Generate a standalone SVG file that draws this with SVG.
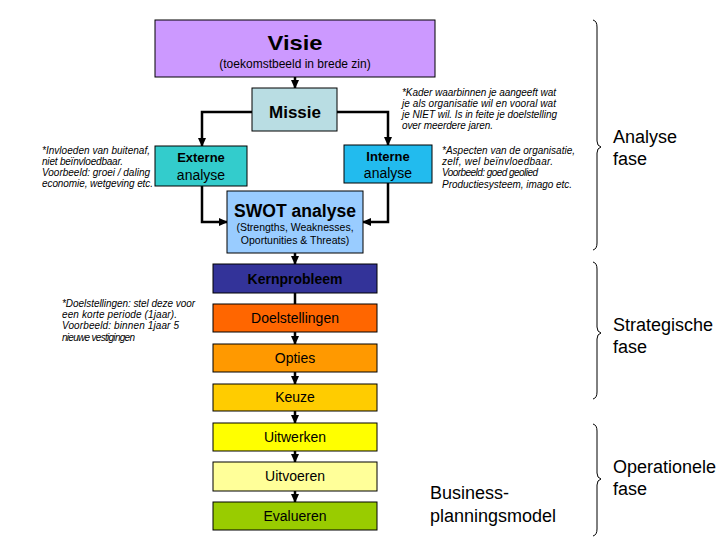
<svg xmlns="http://www.w3.org/2000/svg" width="720" height="540" viewBox="0 0 720 540">
<defs>
<marker id="ah" markerUnits="userSpaceOnUse" markerWidth="9" markerHeight="8" refX="8" refY="4" orient="auto">
<path d="M0,0 L9,4 L0,8 z" fill="#000"/>
</marker>
</defs>
<style>
.box{stroke:#000;stroke-width:1}
.t{font-family:"Liberation Sans",Arial,sans-serif;fill:#000}
.c{text-anchor:middle}
.lbl{font-size:14px}
.side{font-size:18px}
.note{font-family:"Liberation Sans",Arial,sans-serif;font-size:10px;font-style:italic;fill:#000}
.conn{fill:none;stroke:#000;stroke-width:2.5}
.brace{fill:none;stroke:#000;stroke-width:1}
</style>
<rect width="720" height="540" fill="#fff"/>

<g id="connectors">
<line class="conn" x1="295" y1="77" x2="295" y2="88" marker-end="url(#ah)"/>
<polyline class="conn" points="252,112 202,112 202,146" marker-end="url(#ah)"/>
<polyline class="conn" points="337,112 388,112 388,145" marker-end="url(#ah)"/>
<polyline class="conn" points="202,186 202,222 227,222" marker-end="url(#ah)"/>
<polyline class="conn" points="388,183 388,222 363,222" marker-end="url(#ah)"/>
<line class="conn" x1="295" y1="253" x2="295" y2="264" marker-end="url(#ah)"/>
<line class="conn" x1="295" y1="293" x2="295" y2="304"/>
<line class="conn" x1="295" y1="332" x2="295" y2="344" marker-end="url(#ah)"/>
<line class="conn" x1="295" y1="372" x2="295" y2="384" marker-end="url(#ah)"/>
<line class="conn" x1="295" y1="411" x2="295" y2="423" marker-end="url(#ah)"/>
<line class="conn" x1="295" y1="451" x2="295" y2="462" marker-end="url(#ah)"/>
<line class="conn" x1="295" y1="491" x2="295" y2="502" marker-end="url(#ah)"/>
</g>

<g id="visie">
<rect class="box" x="155" y="20" width="280" height="57" fill="#CC99FF"/>
<text class="t c" x="295" y="50" font-size="21" font-weight="bold" textLength="55" lengthAdjust="spacingAndGlyphs">Visie</text>
<text class="t c" x="295" y="68" font-size="12">(toekomstbeeld in brede zin)</text>
</g>

<g id="missie">
<rect class="box" x="252" y="88" width="85" height="43" fill="#B9DDE3"/>
<text class="t c" x="295" y="118" font-size="17" font-weight="bold">Missie</text>
</g>

<g id="externe">
<rect class="box" x="155" y="146" width="92" height="40" fill="#33CCCC"/>
<text class="t c" x="201" y="162" font-size="13" font-weight="bold">Externe</text>
<text class="t c" x="201" y="180" font-size="14">analyse</text>
</g>

<g id="interne">
<rect class="box" x="344" y="145" width="88" height="38" fill="#22BBEE"/>
<text class="t c" x="388" y="161" font-size="13" font-weight="bold">Interne</text>
<text class="t c" x="388" y="178" font-size="14">analyse</text>
</g>

<g id="swot">
<rect class="box" x="227" y="191" width="136" height="62" fill="#99CCFF"/>
<text class="t c" x="295" y="217" font-size="18" font-weight="bold" textLength="122" lengthAdjust="spacingAndGlyphs">SWOT analyse</text>
<text class="t c" x="295" y="231" font-size="10.5">(Strengths, Weaknesses,</text>
<text class="t c" x="295" y="244" font-size="10.5">Oportunities &amp; Threats)</text>
</g>

<g id="kernprobleem">
<rect class="box" x="213" y="264" width="164" height="29" fill="#333399"/>
<text class="t c" x="295" y="284" font-size="14" font-weight="bold">Kernprobleem</text>
</g>

<g id="doelstellingen">
<rect class="box" x="213" y="304" width="164" height="28" fill="#FF6600"/>
<text class="t c lbl" x="295" y="323">Doelstellingen</text>
</g>

<g id="opties">
<rect class="box" x="213" y="344" width="164" height="28" fill="#FF9900"/>
<text class="t c lbl" x="295" y="363">Opties</text>
</g>

<g id="keuze">
<rect class="box" x="213" y="384" width="164" height="27" fill="#FFCC00"/>
<text class="t c lbl" x="295" y="402">Keuze</text>
</g>

<g id="uitwerken">
<rect class="box" x="213" y="423" width="164" height="28" fill="#FFFF00"/>
<text class="t c lbl" x="295" y="442">Uitwerken</text>
</g>

<g id="uitvoeren">
<rect class="box" x="213" y="462" width="164" height="29" fill="#FFFF99"/>
<text class="t c lbl" x="295" y="481">Uitvoeren</text>
</g>

<g id="evalueren">
<rect class="box" x="213" y="502" width="164" height="28" fill="#99CC00"/>
<text class="t c lbl" x="295" y="521">Evalueren</text>
</g>

<g id="note-kader">
<text class="note" x="402" y="96" textLength="154" lengthAdjust="spacing">*Kader waarbinnen je aangeeft wat</text>
<text class="note" x="402" y="107" textLength="154" lengthAdjust="spacing">je als organisatie wil en vooral wat</text>
<text class="note" x="402" y="118" textLength="155" lengthAdjust="spacing">je NIET wil. Is in feite je doelstelling</text>
<text class="note" x="402" y="129" textLength="91" lengthAdjust="spacing">over meerdere jaren.</text>
</g>

<g id="note-invloeden">
<text class="note" x="42" y="154" textLength="108" lengthAdjust="spacing">*Invloeden van buitenaf,</text>
<text class="note" x="42" y="165" textLength="81" lengthAdjust="spacing">niet beïnvloedbaar.</text>
<text class="note" x="42" y="176" textLength="108" lengthAdjust="spacing">Voorbeeld: groei / daling</text>
<text class="note" x="42" y="187" textLength="111" lengthAdjust="spacing">economie, wetgeving etc.</text>
</g>

<g id="note-aspecten">
<text class="note" x="442" y="154" textLength="133" lengthAdjust="spacing">*Aspecten van de organisatie,</text>
<text class="note" x="442" y="165" textLength="111" lengthAdjust="spacing">zelf,  wel beïnvloedbaar.</text>
<text class="note" x="442" y="176" textLength="96" lengthAdjust="spacing">Voorbeeld: goed geolied</text>
<text class="note" x="442" y="188" textLength="130" lengthAdjust="spacing">Productiesysteem, imago etc.</text>
</g>

<g id="note-doel">
<text class="note" x="62" y="307" textLength="133" lengthAdjust="spacing">*Doelstellingen: stel deze voor</text>
<text class="note" x="62" y="318" textLength="115" lengthAdjust="spacing">een korte periode (1jaar).</text>
<text class="note" x="62" y="329" textLength="117" lengthAdjust="spacing">Voorbeeld: binnen 1jaar 5</text>
<text class="note" x="62" y="341" textLength="73" lengthAdjust="spacing">nieuwe vestigingen</text>
</g>

<g id="business">
<text class="t side" x="430" y="499">Business-</text>
<text class="t side" x="430" y="522">planningsmodel</text>
</g>

<g id="phase-analyse">
<path class="brace" d="M593,20 Q597,21 597,27 L597,141 Q597,146 601,147 Q597,148 597,153 L597,243 Q597,249 593,250"/>
<text class="t side" x="613" y="143">Analyse</text>
<text class="t side" x="613" y="165">fase</text>
</g>

<g id="phase-strategisch">
<path class="brace" d="M593,262 Q597,263 597,269 L597,327 Q597,332 601,333 Q597,334 597,339 L597,392 Q597,398 593,399"/>
<text class="t side" x="613" y="331">Strategische</text>
<text class="t side" x="613" y="353">fase</text>
</g>

<g id="phase-operationeel">
<path class="brace" d="M593,424 Q597,425 597,431 L597,473 Q597,478 601,479 Q597,480 597,485 L597,529 Q597,535 593,536"/>
<text class="t side" x="613" y="473">Operationele</text>
<text class="t side" x="613" y="495">fase</text>
</g>
</svg>
